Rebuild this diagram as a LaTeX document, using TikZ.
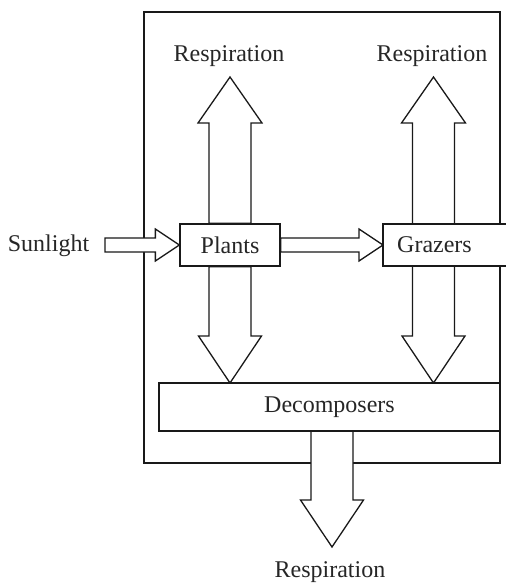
\documentclass[tikz,border=0pt]{standalone}
\usepackage{fontspec}
\setmainfont{Liberation Serif}
\usetikzlibrary{calc,backgrounds}
\newcommand\UpArr[2]{\draw[barrow] ($(#1)+(-21,0)$) -- ($(#2)+(-21,46)$) -- ($(#2)+(-32,46)$) -- (#2) -- ($(#2)+(32,46)$) -- ($(#2)+(21,46)$) -- ($(#1)+(21,0)$) -- cycle;}
\newcommand\DownArr[2]{\draw[barrow] ($(#1)+(-21,0)$) -- ($(#2)+(-21,-47)$) -- ($(#2)+(-31.5,-47)$) -- (#2) -- ($(#2)+(31.5,-47)$) -- ($(#2)+(21,-47)$) -- ($(#1)+(21,0)$) -- cycle;}
\newcommand\RightArr[2]{\draw[barrow] ($(#1)+(0,-7)$) -- ($(#2)+(-24,-7)$) -- ($(#2)+(-24,-16)$) -- (#2) -- ($(#2)+(-24,16)$) -- ($(#2)+(-24,7)$) -- ($(#1)+(0,7)$) -- cycle;}
\begin{document}
\begin{tikzpicture}[x=1pt,y=-1pt,line width=1.3pt,
  ink/.style={draw=black!90,line width=1.3pt},
  lbl/.style={font=\fontsize{24}{28}\selectfont,inner sep=0pt,text=black!85},
  boxnode/.style={lbl,ink,fill=white,minimum height=42pt},
  barrow/.style={ink,fill=white,line join=miter}]
\useasboundingbox (0,0) rectangle (506,584);
% labels
\node[lbl,anchor=base] (r1) at (229,61) {Respiration};
\node[lbl,anchor=base] (r2) at (432,61) {Respiration};
\node[lbl,anchor=base] (r3) at (330,577) {Respiration};
\node[lbl,anchor=base] (sun) at (48.5,251) {Sunlight};
% boxes
\node[boxnode,minimum width=100pt] (plants) at (230,245) {Plants};
\fill[white] (383,224) rectangle (506,266);
\draw[ink] (506,224) -- (383,224) -- (383,266) -- (506,266);
\coordinate (gw) at (383,245);
\node[lbl] (graz) at (434.5,245) {Grazers};
\node[boxnode,minimum width=341pt,minimum height=48pt] (dec) at (329.5,407) {Decomposers};
% coordinates for arrows
\coordinate (gzn) at (433.5,224);
\coordinate (gzs) at (433.5,266);
\coordinate (t1) at (230,77);
\coordinate (t2) at (433.5,77);
\coordinate (d1) at (230,383);
\coordinate (d2) at (433.5,383);
\coordinate (bs) at (332,431);
\coordinate (bt) at (332,547);
\coordinate (ss) at (105,245);
\begin{scope}[on background layer]
\draw[ink] (144,12) rectangle (500,463);
\UpArr{plants.north}{t1}
\UpArr{gzn}{t2}
\DownArr{plants.south}{d1}
\DownArr{gzs}{d2}
\DownArr{bs}{bt}
\RightArr{ss}{plants.west}
\RightArr{plants.east}{gw}
\end{scope}
\end{tikzpicture}
\end{document}
